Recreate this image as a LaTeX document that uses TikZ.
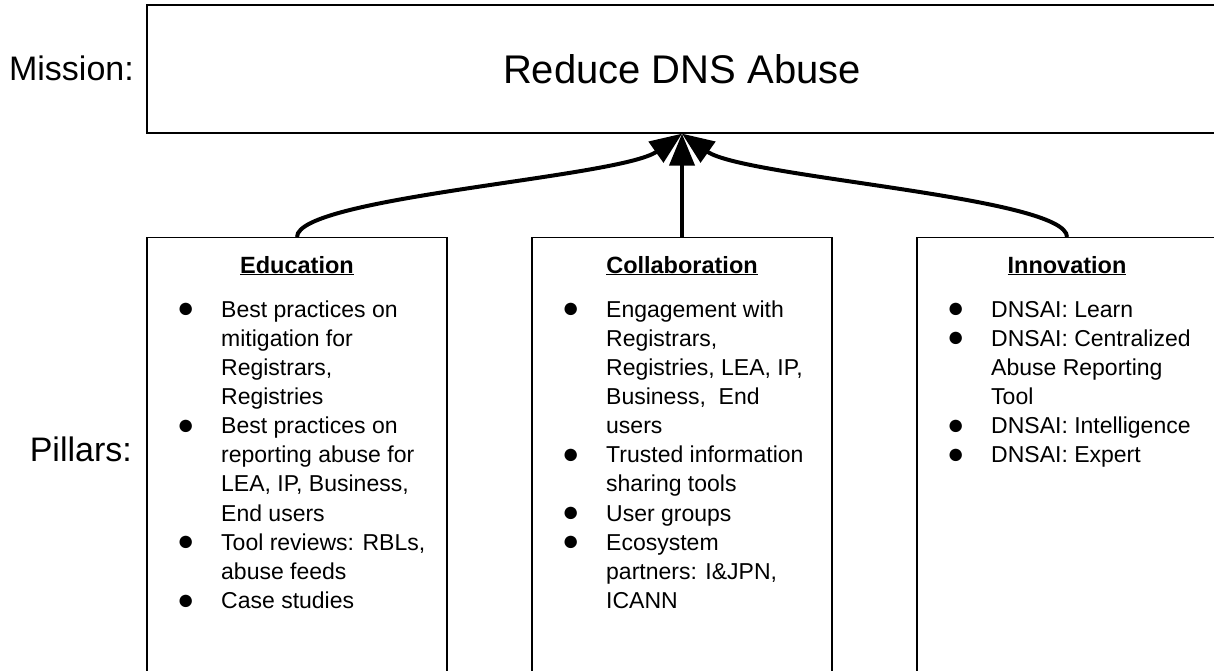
\documentclass[tikz,border=0pt]{standalone}
\usepackage{fontspec}
\usepackage{graphicx}
\setmainfont{Liberation Sans}
\usetikzlibrary{arrows.meta}

% list helpers: bullet line and continuation line
\newcommand{\pbul}{\makebox[44pt][l]{\raisebox{-0.5pt}{\scalebox{1.25}{●}}}}
\newcommand{\pcont}{\hspace*{44pt}}
\newcommand{\listfont}{\fontsize{23}{29.15}\selectfont}

\tikzset{
  frame/.style={draw, line width=1.3pt, inner sep=0pt},
  pillar/.style={frame, minimum width=300pt, minimum height=490pt},
  heading/.style={anchor=base, inner sep=0pt, font=\fontsize{23.5}{28}\selectfont\bfseries},
  itemlist/.style={anchor=base west, inner sep=0pt, font=\listfont},
  label/.style={anchor=base east, inner sep=0pt, font=\fontsize{34}{40}\selectfont},
  link/.style={line width=4pt, -{Triangle[length=32pt,width=25pt]}},
}

\begin{document}
\begin{tikzpicture}[x=1pt, y=-1pt]
\clip (0,0) rectangle (1214,670);

% mission box
\node[frame, minimum width=1070pt, minimum height=128pt,
      font=\fontsize{40}{46}\selectfont] (mission) at (682,69) {Reduce DNS Abuse};
\node[label] (missionlabel) at (134,80) {Mission:};
\node[label] (pillarslabel) at (132,461) {Pillars:};

% pillar boxes
\node[pillar, anchor=north] (edu) at (297,237) {};
\node[pillar, anchor=north] (col) at (682,237) {};
\node[pillar, anchor=north] (inn) at (1067,237) {};

% headings
\node[heading] (eduhead) at (297,273) {\underline{Education}};
\node[heading] (colhead) at (682,273) {\underline{Collaboration}};
\node[heading] (innhead) at (1067,273) {\underline{Innovation}};

% lists
\node[itemlist] (edulist) at (177,317) {\listfont\begin{tabular}[t]{@{}l@{}}
\pbul Best practices on\\
\pcont mitigation for\\
\pcont Registrars,\\
\pcont Registries\\
\pbul Best practices on\\
\pcont reporting abuse for\\
\pcont LEA, IP, Business,\\
\pcont End users\\
\pbul Tool reviews: RBLs,\\
\pcont abuse feeds\\
\pbul Case studies
\end{tabular}};

\node[itemlist] (collist) at (562,317) {\listfont\begin{tabular}[t]{@{}l@{}}
\pbul Engagement with\\
\pcont Registrars,\\
\pcont Registries, LEA, IP,\\
\pcont Business,\ \ End\\
\pcont users\\
\pbul Trusted information\\
\pcont sharing tools\\
\pbul User groups\\
\pbul Ecosystem\\
\pcont partners: I\&JPN,\\
\pcont ICANN
\end{tabular}};

\node[itemlist] (innlist) at (947,317) {\listfont\begin{tabular}[t]{@{}l@{}}
\pbul DNSAI: Learn\\
\pbul DNSAI: Centralized\\
\pcont Abuse Reporting\\
\pcont Tool\\
\pbul DNSAI: Intelligence\\
\pbul DNSAI: Expert
\end{tabular}};

% connectors
\draw[link] (col.north) -- (mission.south);
\draw[link] (edu.north) .. controls +(0,-40) and +(-62,44) .. (mission.south);
\draw[link] (inn.north) .. controls +(0,-40) and +(62,44) .. (mission.south);
\end{tikzpicture}
\end{document}
